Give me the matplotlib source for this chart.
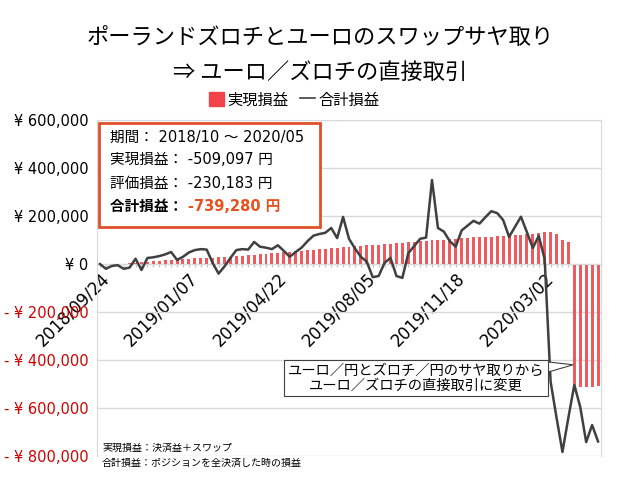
import matplotlib
matplotlib.use('Agg')
import matplotlib.pyplot as plt
from matplotlib.patches import Patch, Rectangle
from matplotlib.lines import Line2D
from matplotlib.ticker import FuncFormatter
import datetime as dt

plt.rcParams['font.family'] = ['Noto Sans CJK JP', 'DejaVu Sans']
LATIN = ['DejaVu Sans', 'Noto Sans CJK JP']

# 週次データ (2018/09/24 ～ 2020/05/04)
start = dt.date(2018, 9, 24)
dates = [(start + dt.timedelta(weeks=i)).strftime('%Y/%m/%d') for i in range(85)]

# 実現損益 (棒)
realized = [0, 500, 1000, 1500, 2000, 3000, 5000, 7000, 9000, 11000,
            13000, 15000, 17000, 18000, 20000, 21000, 23000, 24000, 26000, 27000,
            29000, 30000, 31000, 33000, 34000, 36000, 38000, 40000, 42000, 44000,
            46000, 48000, 51000, 54000, 56000, 58000, 60000, 62000, 64000, 66000,
            68000, 70000, 72000, 74000, 76000, 78000, 80000, 81000, 83000, 84000,
            86000, 88000, 90000, 92000, 94000, 96000, 98000, 100000, 102000, 104000,
            106000, 108000, 110000, 111000, 112000, 113000, 114000, 115000, 116000, 118000,
            120000, 122000, 124000, 126000, 130000, 132000, 134000, 124000, 98000, 90000,
            -505000, -512000, -513000, -511000, -509097]

# 合計損益 (線)
total = [0, -20000, -8000, -5000, -20000, -15000, 22000, -25000, 25000, 28000,
         33000, 40000, 50000, 17000, 30000, 48000, 58000, 62000, 60000, 5000,
         -40000, -10000, 25000, 58000, 62000, 60000, 92000, 72000, 68000, 62000,
         78000, 55000, 30000, 50000, 68000, 95000, 118000, 125000, 130000, 150000,
         108000, 196000, 105000, 65000, 30000, 10000, -55000, -50000, 5000, 25000,
         -50000, -58000, 45000, 75000, 105000, 110000, 350000, 150000, 135000, 95000,
         72000, 140000, 160000, 180000, 168000, 195000, 220000, 212000, 183000, 113000,
         155000, 197000, 133000, 67000, 117000, 20000, -490000, -640000, -783000, -640000,
         -504000, -596000, -742000, -671000, -739280]

tick_step = 15

fig = plt.figure(figsize=(6.4, 4.8), dpi=100)
ax = fig.add_axes([97 / 640, 1 - 456 / 480, 504 / 640, 336 / 480])

x = list(range(len(dates)))
ax.bar(x, realized, width=0.5, color='#ef5a5f', zorder=2)
ax.plot(x, total, color='#404040', linewidth=1.8, zorder=3)

ax.set_xlim(-0.5, len(dates) - 0.5)
ax.set_ylim(-800000, 600000)
ax.set_yticks(range(-800000, 600001, 200000))
ax.grid(axis='y', color='#d9d9d9', linewidth=1, zorder=0)
ax.set_axisbelow(True)


def yen(v, pos):
    if v == 0:
        return '¥ 0'
    if v < 0:
        return '- ¥ {:,}'.format(int(abs(v)))
    return '¥ {:,}'.format(int(v))


ax.yaxis.set_major_formatter(FuncFormatter(yen))
ax.tick_params(axis='y', length=0, pad=6)
for lab, v in zip(ax.get_yticklabels(), ax.get_yticks()):
    lab.set_color('#d00000' if v < 0 else 'black')
    lab.set_family(LATIN)
    lab.set_fontsize(10.5)

# x 軸はゼロの位置
ax.spines['bottom'].set_position(('data', 0))
ax.set_xticks(x)
ax.set_xticklabels([d if i % tick_step == 0 else '' for i, d in enumerate(dates)],
                   rotation=45, ha='right', rotation_mode='anchor',
                   fontsize=12, family=LATIN)
ax.tick_params(axis='x', length=2, color='#bfbfbf', pad=2)
for s in ['top', 'right', 'left', 'bottom']:
    ax.spines[s].set_color('#d9d9d9')

# タイトル
fig.text(0.5, 1 - 37 / 480, 'ポーランドズロチとユーロのスワップサヤ取り',
         ha='center', va='center', fontsize=16)
fig.text(0.5, 1 - 72 / 480, '⇒ ユーロ／ズロチの直接取引',
         ha='center', va='center', fontsize=16)

# 凡例
handles = [Patch(color='#f0444a', label='実現損益'),
           Line2D([], [], color='#404040', linewidth=1.2, label='合計損益')]
fig.legend(handles=handles, loc='center', bbox_to_anchor=(294 / 640, 1 - 100 / 480),
           ncol=2, frameon=False, fontsize=11, handlelength=1.0, handleheight=1.0,
           handletextpad=0.2, columnspacing=0.8)

# 期間・損益ボックス
ax.add_patch(Rectangle((0.004, 0.682), 0.438, 0.309, transform=ax.transAxes,
                       facecolor='white', edgecolor='#e0502a', linewidth=2, zorder=5))
tx = 0.026
ax.text(tx, 0.949, '期間： 2018/10 ～ 2020/05', transform=ax.transAxes,
        fontsize=10.5, va='center', family=LATIN, zorder=6)
ax.text(tx, 0.881, '実現損益： -509,097 円', transform=ax.transAxes,
        fontsize=10.5, va='center', family=LATIN, zorder=6)
ax.text(tx, 0.810, '評価損益： -230,183 円', transform=ax.transAxes,
        fontsize=10.5, va='center', family=LATIN, zorder=6)
t = ax.text(tx, 0.744, '合計損益： ', transform=ax.transAxes,
            fontsize=10.5, va='center', fontweight='bold', family=LATIN, zorder=6)
ax.annotate('-739,280 円', xy=(1, 0.5), xycoords=t, va='center',
            fontsize=10.5, fontweight='bold', color='#e8501e', family=LATIN, zorder=6)

# 変更の吹き出し
ax.annotate('ユーロ／円とズロチ／円のサヤ取りから\nユーロ／ズロチの直接取引に変更',
            xy=(79.8, -420000), xytext=(53.3, -475000),
            ha='center', va='center', fontsize=10.3, linespacing=1.05, zorder=6,
            bbox=dict(boxstyle='square,pad=0.25', fc='white', ec='#404040', lw=0.8),
            arrowprops=dict(arrowstyle='wedge,tail_width=0.7', shrinkA=0, shrinkB=0,
                            fc='white', ec='#404040', lw=0.8))

# 注記
fig.text(102 / 640, 1 - 448 / 480, '実現損益：決済益＋スワップ', fontsize=7.2, va='center')
fig.text(102 / 640, 1 - 463 / 480, '合計損益：ポジションを全決済した時の損益', fontsize=7.2, va='center')

fig.savefig('out.png', dpi=100)
